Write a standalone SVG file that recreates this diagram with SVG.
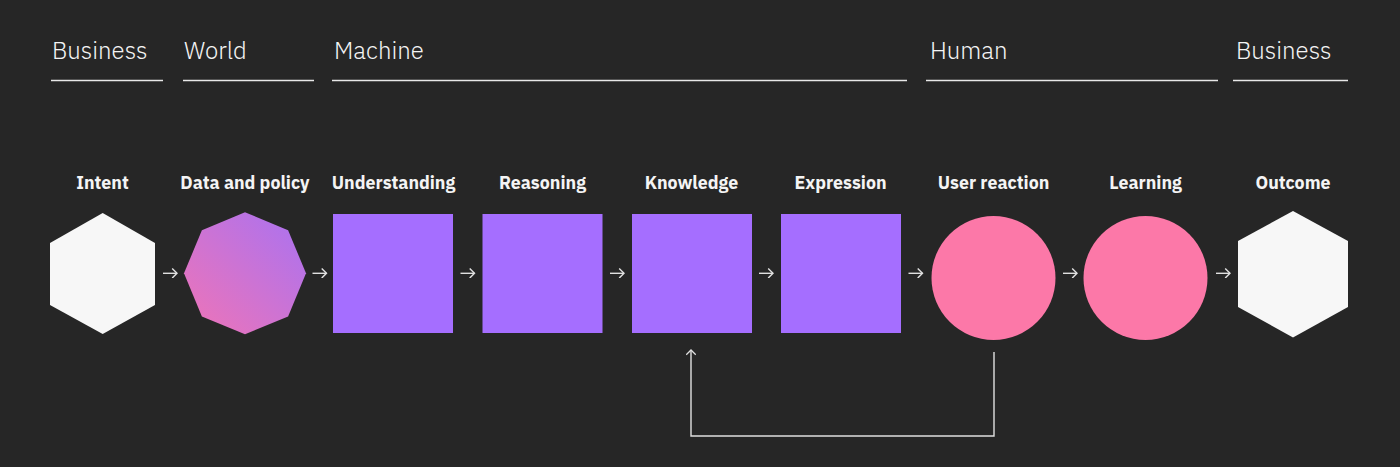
<svg xmlns="http://www.w3.org/2000/svg" width="1400" height="467" viewBox="0 0 1400 467">
  <style>
    .hdr { font-family: "IBM Plex Sans", "Open Sans", "Liberation Sans", sans-serif; font-weight: 300; font-size: 24px; fill: #f4f4f4; }
    .rule { stroke: #e8e8e8; stroke-width: 1.5; fill: none; }
    .lbl { font-family: "IBM Plex Sans", "Liberation Sans", "Noto Sans", sans-serif; font-weight: 700; font-size: 17.8px; fill: #f4f4f4; text-anchor: middle; }
    .sq { fill: #a56eff; }
    .circ { fill: #fc78a8; }
    .hex { fill: #f7f7f7; }
    .conn { stroke: #e0e0e0; stroke-width: 1.4; fill: none; marker-end: url(#arr); }
  </style>
  <defs>
    <linearGradient id="octGrad" x1="0" y1="1" x2="1" y2="0">
      <stop offset="0" stop-color="#f074b6"/>
      <stop offset="1" stop-color="#a872f2"/>
    </linearGradient>
    <marker id="arr" viewBox="0 0 10 10" refX="9" refY="5" markerWidth="10" markerHeight="10" markerUnits="userSpaceOnUse" orient="auto">
      <path d="M4.2 0.2 L9 5 L4.2 9.8" fill="none" stroke="#e0e0e0" stroke-width="1.4"/>
    </marker>
  </defs>
  <rect width="1400" height="467" fill="#262626"/>

  <g id="headers">
    <text class="hdr" x="52" y="59">Business</text>
    <line class="rule" x1="51" y1="80.5" x2="163" y2="80.5"/>
    <text class="hdr" x="184" y="59">World</text>
    <line class="rule" x1="183" y1="80.5" x2="314" y2="80.5"/>
    <text class="hdr" x="334" y="59">Machine</text>
    <line class="rule" x1="332" y1="80.5" x2="907" y2="80.5"/>
    <text class="hdr" x="930" y="59">Human</text>
    <line class="rule" x1="926" y1="80.5" x2="1218" y2="80.5"/>
    <text class="hdr" x="1236" y="59">Business</text>
    <line class="rule" x1="1233" y1="80.5" x2="1348" y2="80.5"/>
  </g>

  <g id="intent">
    <text class="lbl" x="102.5" y="189">Intent</text>
    <polygon class="hex" points="102.7,213 155,243 155,305 102.7,334 50,305 50,243"/>
  </g>
  <g id="data-and-policy">
    <text class="lbl" x="245" y="189">Data and policy</text>
    <polygon fill="url(#octGrad)" points="245,212.3 288.1,230.2 306,273.3 288.1,316.4 245,334.3 201.9,316.4 184,273.3 201.9,230.2"/>
  </g>
  <g id="understanding">
    <text class="lbl" x="393.5" y="189">Understanding</text>
    <rect class="sq" x="333" y="214" width="120" height="119"/>
  </g>
  <g id="reasoning">
    <text class="lbl" x="542.5" y="189">Reasoning</text>
    <rect class="sq" x="482.5" y="214" width="120" height="119"/>
  </g>
  <g id="knowledge">
    <text class="lbl" x="691.5" y="189">Knowledge</text>
    <rect class="sq" x="632" y="214" width="120" height="119"/>
  </g>
  <g id="expression">
    <text class="lbl" x="840.5" y="189">Expression</text>
    <rect class="sq" x="781" y="214" width="120" height="119"/>
  </g>
  <g id="user-reaction">
    <text class="lbl" x="993.5" y="189">User reaction</text>
    <circle class="circ" cx="993.5" cy="278" r="62"/>
  </g>
  <g id="learning">
    <text class="lbl" x="1145.5" y="189">Learning</text>
    <circle class="circ" cx="1145.5" cy="278" r="62"/>
  </g>
  <g id="outcome">
    <text class="lbl" x="1293" y="189">Outcome</text>
    <polygon class="hex" points="1293,211 1348,241 1348,307 1293,337.5 1238,307 1238,241"/>
  </g>

  <g id="connectors">
    <line class="conn" x1="163" y1="273.3" x2="177" y2="273.3"/>
    <line class="conn" x1="312.5" y1="273.3" x2="326.5" y2="273.3"/>
    <line class="conn" x1="460.5" y1="273.3" x2="474.5" y2="273.3"/>
    <line class="conn" x1="610" y1="273.3" x2="624" y2="273.3"/>
    <line class="conn" x1="759" y1="273.3" x2="773" y2="273.3"/>
    <line class="conn" x1="908.5" y1="273.3" x2="922.5" y2="273.3"/>
    <line class="conn" x1="1063" y1="273.3" x2="1077" y2="273.3"/>
    <line class="conn" x1="1216" y1="273.3" x2="1230" y2="273.3"/>
    <path class="conn" d="M994 352 V436 H691 V350"/>
  </g>
</svg>
